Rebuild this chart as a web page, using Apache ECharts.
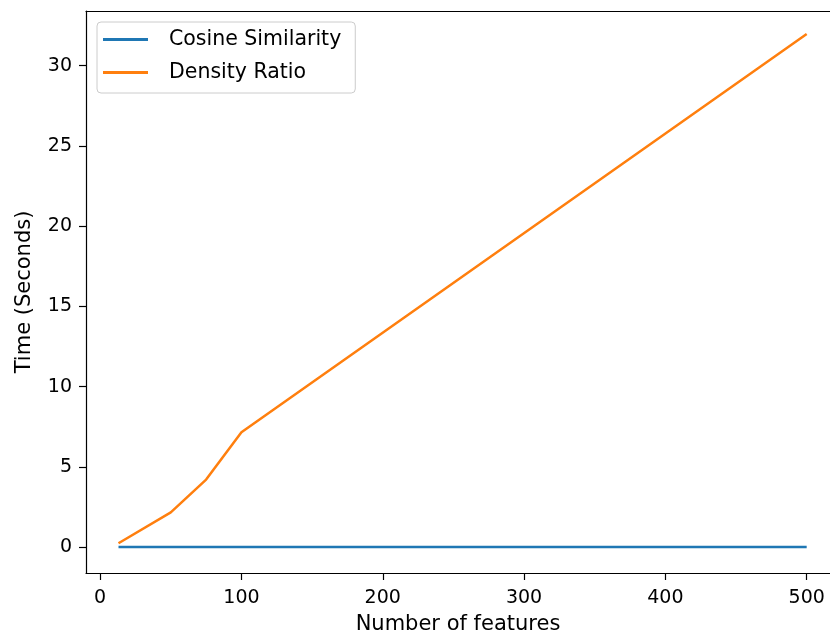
<!DOCTYPE html>
<html>
<head>
<meta charset="utf-8">
<script src="https://cdn.jsdelivr.net/npm/echarts@6/dist/echarts.min.js"></script>
<style>html,body{margin:0;padding:0;background:#fff}#c{width:830px;height:635px}</style>
</head>
<body>
<div id="c"></div>
<script>
const features = [13, 50, 75, 100, 500];
const cosineSimilarity = [0.02, 0.02, 0.02, 0.02, 0.02];
const densityRatio = [0.25, 2.18, 4.22, 7.17, 31.97];
const xTicks = [0, 100, 200, 300, 400, 500];
const yTicks = [0, 5, 10, 15, 20, 25, 30];

const FONT = 'DejaVu Sans';
const chart = echarts.init(document.getElementById('c'), null, {renderer: 'canvas'});
chart.setOption({
  animation: false,
  backgroundColor: '#fff',
  grid: {left: 86, top: 11, right: 0, bottom: 62, containLabel: false, outerBoundsMode: 'none'},
  xAxis: [{
    type: 'value', min: -10, max: 516.5,
    name: 'Number of features', nameLocation: 'middle', nameGap: 41,
    nameTextStyle: {fontFamily: FONT, fontSize: 21, color: '#000'},
    axisLine: {onZero: false, lineStyle: {color: '#000', width: 1.2}},
    axisTick: {show: true, length: 7, lineStyle: {color: '#000', width: 1.2}, customValues: xTicks},
    axisLabel: {fontFamily: FONT, fontSize: 19, color: '#000', margin: 16, customValues: xTicks},
    splitLine: {show: false}
  }, {
    type: 'value', position: 'top', min: -10, max: 516.5,
    axisLine: {show: true, onZero: false, lineStyle: {color: '#000', width: 1.2}},
    axisTick: {show: false}, axisLabel: {show: false}, splitLine: {show: false}
  }],
  yAxis: {
    type: 'value', min: -1.6, max: 33.4,
    name: 'Time (Seconds)', nameLocation: 'middle', nameGap: 51,
    nameTextStyle: {fontFamily: FONT, fontSize: 21, color: '#000'},
    axisLine: {show: true, onZero: false, lineStyle: {color: '#000', width: 1.2}},
    axisTick: {show: true, length: 7, lineStyle: {color: '#000', width: 1.2}, customValues: yTicks},
    axisLabel: {fontFamily: FONT, fontSize: 19, color: '#000', margin: 14, customValues: yTicks},
    splitLine: {show: false}
  },
  legend: {
    left: 97, top: 22, orient: 'vertical',
    backgroundColor: '#fff', borderColor: '#ccc', borderWidth: 1, borderRadius: 4,
    padding: [7, 14, 10, 6], itemGap: 12, itemWidth: 45, itemHeight: 3,
    icon: 'rect',
    textStyle: {fontFamily: FONT, fontSize: 20.5, color: '#000', padding: [0, 0, 0, 16]},
    data: ['Cosine Similarity', 'Density Ratio']
  },
  series: [
    {name: 'Cosine Similarity', type: 'line', data: features.map((x, i) => [x, cosineSimilarity[i]]),
     showSymbol: false, symbol: 'none', lineStyle: {color: '#1f77b4', width: 2.5}, itemStyle: {color: '#1f77b4'}},
    {name: 'Density Ratio', type: 'line', data: features.map((x, i) => [x, densityRatio[i]]),
     showSymbol: false, symbol: 'none', lineStyle: {color: '#ff7f0e', width: 2.5}, itemStyle: {color: '#ff7f0e'}}
  ]
});
</script>
</body>
</html>
